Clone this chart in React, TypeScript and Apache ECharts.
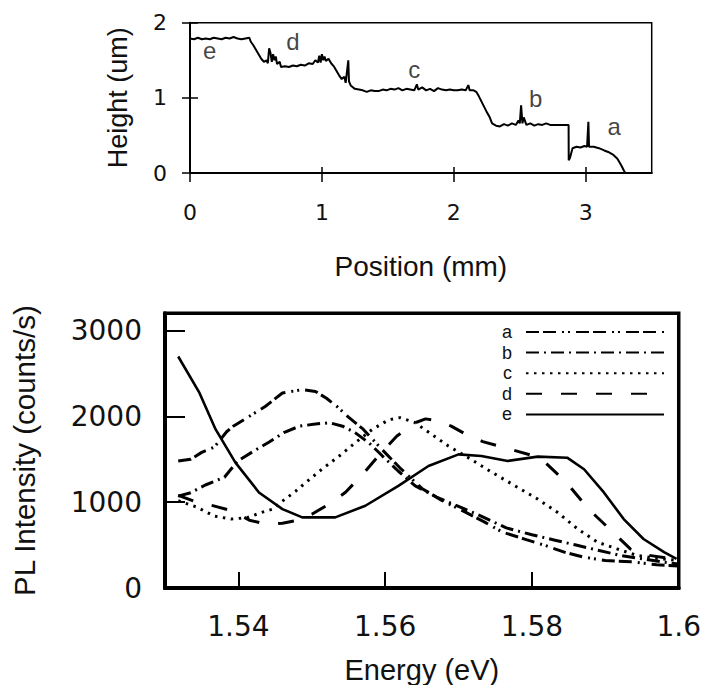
import React, { useEffect, useRef } from 'react';
import * as echarts from 'echarts';

// ---------- Top chart: height profile ----------
const profile: [number, number][] = [
  [0.0, 1.79], [0.03, 1.78], [0.06, 1.8], [0.09, 1.78], [0.12, 1.79], [0.15, 1.78], [0.18, 1.8],
  [0.21, 1.79], [0.24, 1.78], [0.27, 1.8], [0.3, 1.79], [0.33, 1.81], [0.36, 1.79], [0.39, 1.78],
  [0.42, 1.79], [0.45, 1.8], [0.46, 1.75], [0.48, 1.7], [0.5, 1.64], [0.52, 1.58], [0.54, 1.52],
  [0.56, 1.48], [0.58, 1.5], [0.59, 1.46], [0.6, 1.66], [0.61, 1.6], [0.62, 1.48], [0.63, 1.58],
  [0.64, 1.5], [0.65, 1.55], [0.66, 1.45], [0.68, 1.48], [0.69, 1.41], [0.72, 1.42], [0.75, 1.41],
  [0.78, 1.43], [0.81, 1.42], [0.84, 1.44], [0.87, 1.43], [0.9, 1.46], [0.93, 1.45], [0.95, 1.5],
  [0.97, 1.47], [0.98, 1.56], [0.99, 1.47], [1.0, 1.58], [1.01, 1.5], [1.02, 1.55], [1.03, 1.49],
  [1.05, 1.52], [1.07, 1.46], [1.09, 1.42], [1.11, 1.36], [1.13, 1.3], [1.15, 1.25], [1.17, 1.28],
  [1.18, 1.2], [1.2, 1.5], [1.205, 1.22], [1.22, 1.16], [1.25, 1.12], [1.28, 1.11], [1.31, 1.1],
  [1.34, 1.08], [1.37, 1.1], [1.4, 1.09], [1.43, 1.09], [1.46, 1.11], [1.49, 1.1], [1.52, 1.12],
  [1.55, 1.11], [1.58, 1.13], [1.61, 1.1], [1.64, 1.12], [1.67, 1.11], [1.7, 1.1], [1.72, 1.18],
  [1.73, 1.11], [1.76, 1.14], [1.79, 1.1], [1.82, 1.12], [1.85, 1.09], [1.88, 1.13], [1.91, 1.11],
  [1.94, 1.1], [1.97, 1.11], [2.0, 1.1], [2.03, 1.1], [2.06, 1.11], [2.09, 1.1], [2.11, 1.17],
  [2.12, 1.1], [2.15, 1.1], [2.17, 1.08], [2.19, 1.02], [2.21, 0.95], [2.23, 0.88], [2.25, 0.81],
  [2.27, 0.75], [2.29, 0.66], [2.32, 0.63], [2.35, 0.62], [2.38, 0.65], [2.41, 0.63], [2.44, 0.66],
  [2.47, 0.64], [2.49, 0.7], [2.5, 0.66], [2.51, 0.9], [2.52, 0.66], [2.53, 0.74], [2.55, 0.64],
  [2.58, 0.66], [2.61, 0.63], [2.64, 0.65], [2.67, 0.64], [2.7, 0.66], [2.73, 0.64], [2.76, 0.64],
  [2.8, 0.64], [2.84, 0.64], [2.87, 0.64], [2.871, 0.17], [2.88, 0.2], [2.9, 0.33], [2.93, 0.35],
  [2.96, 0.34], [2.99, 0.36], [3.01, 0.35], [3.02, 0.68], [3.025, 0.35], [3.06, 0.35], [3.1, 0.33],
  [3.14, 0.3], [3.17, 0.28], [3.21, 0.24], [3.24, 0.19], [3.27, 0.1], [3.29, 0.03], [3.3, 0.0],
];
const profileNotes: [number, number, string][] = [
  [0.15, 1.63, 'e'], [0.78, 1.75, 'd'], [1.7, 1.38, 'c'], [2.62, 0.99, 'b'], [3.215, 0.62, 'a'],
];
const posTicks = [0, 1, 2, 3];
const heightTicks = [0, 1, 2];

// ---------- Bottom chart: PL spectra ----------
const seriesNames = ['a', 'b', 'c', 'd', 'e'];
const specA: [number, number][] = [
  [1.5318, 1480], [1.5335, 1500], [1.535, 1580], [1.5367, 1640], [1.5384, 1820], [1.5393, 1885],
  [1.5415, 2000], [1.5437, 2117], [1.546, 2272], [1.5487, 2311], [1.5505, 2290], [1.552, 2210],
  [1.5535, 2110], [1.555, 1990], [1.557, 1850], [1.5595, 1620], [1.562, 1400], [1.565, 1160],
  [1.5675, 1030], [1.571, 880], [1.5735, 770], [1.576, 650], [1.579, 570], [1.582, 490],
  [1.5845, 415], [1.587, 360], [1.59, 320], [1.5935, 305], [1.597, 270], [1.6, 255],
];
const specB: [number, number][] = [
  [1.5318, 1070], [1.5335, 1110], [1.5355, 1200], [1.5381, 1290], [1.5399, 1480], [1.542, 1590],
  [1.5442, 1700], [1.5462, 1810], [1.5483, 1885], [1.5505, 1910], [1.5524, 1925], [1.5542, 1885],
  [1.5559, 1810], [1.5578, 1690], [1.5596, 1540], [1.5618, 1360], [1.5641, 1190], [1.567, 1060],
  [1.57, 950], [1.573, 840], [1.5765, 700], [1.58, 620], [1.583, 560], [1.586, 500], [1.589, 440],
  [1.592, 380], [1.595, 340], [1.598, 300], [1.6, 280],
];
const specC: [number, number][] = [
  [1.5318, 1016], [1.5343, 943], [1.5367, 838], [1.539, 803], [1.5412, 820], [1.5433, 884],
  [1.5447, 919], [1.546, 1012], [1.5478, 1128], [1.5492, 1230], [1.5514, 1385], [1.5537, 1535],
  [1.5559, 1690], [1.5582, 1845], [1.5605, 1960], [1.562, 1985], [1.564, 1930], [1.5665, 1780],
  [1.5686, 1655], [1.5709, 1540], [1.5746, 1345], [1.5777, 1190], [1.5808, 1035], [1.5835, 880],
  [1.5862, 690], [1.5889, 535], [1.5916, 455], [1.5943, 380], [1.597, 345], [1.6, 320],
];
const specD: [number, number][] = [
  [1.5318, 1080], [1.534, 1010], [1.5365, 960], [1.5391, 900], [1.5415, 790], [1.5437, 745],
  [1.546, 755], [1.5478, 785], [1.55, 860], [1.5525, 985], [1.5546, 1115], [1.557, 1330],
  [1.5591, 1540], [1.5616, 1770], [1.5641, 1925], [1.5655, 1970], [1.567, 1950], [1.569, 1885],
  [1.571, 1790], [1.5733, 1705], [1.5771, 1615], [1.58, 1545], [1.5819, 1455], [1.5847, 1230],
  [1.5877, 920], [1.5914, 620], [1.5934, 455], [1.596, 380], [1.6, 330],
];
const specE: [number, number][] = [
  [1.5318, 2697], [1.5347, 2272], [1.5369, 1847], [1.5396, 1461], [1.5428, 1113], [1.546, 919],
  [1.5487, 823], [1.5532, 823], [1.5573, 958], [1.5618, 1190], [1.5659, 1421], [1.57, 1557],
  [1.5731, 1537], [1.5767, 1480], [1.5808, 1530], [1.5848, 1518], [1.5871, 1383], [1.5898, 1113],
  [1.5925, 803], [1.5952, 571], [1.598, 417], [1.5997, 340],
];
const spectra = [specA, specB, specC, specD, specE];
const dashTypes: any[] = [[13, 4, 13, 6, 2, 4, 2, 6], [13, 5, 2, 5], [2.5, 5.5], [16, 19], 'solid'];
const energyTicks = [1.54, 1.56, 1.58, 1.6];
const intensityLabels = [0, 1000, 2000, 3000];
const intensityTicks = [1000, 2000, 3000];

const TICK_FONT = 'DejaVu Sans';
const NAME_FONT = 'Liberation Sans, Arial, sans-serif';
const INK = '#111';
const plain = (v: number) => String(v);

export default function App() {
  const ref = useRef<HTMLDivElement>(null);
  useEffect(() => {
    if (!ref.current) return;
    const chart = echarts.init(ref.current, undefined, { renderer: 'svg' });
    const g0 = { left: 190, top: 22.7, width: 461.7, height: 150.3 };
    const g1 = { left: 165, top: 313.3, width: 516.7, height: 276 };
    const option: any = {
      animation: false,
      backgroundColor: '#fff',
      grid: [
        { ...g0, show: true, borderColor: '#000', borderWidth: 1.5 },
        { ...g1, show: true, borderColor: '#000', borderWidth: 3.5 },
        { ...g0 },
      ],
      xAxis: [
        {
          gridIndex: 0, type: 'value', min: 0, max: 3.5,
          axisLine: { onZero: false, lineStyle: { color: '#000', width: 2 } },
          axisTick: { customValues: posTicks, length: 9, lineStyle: { color: '#000', width: 1.5 } },
          axisLabel: { customValues: posTicks, formatter: plain, margin: 28, fontSize: 22, fontFamily: TICK_FONT, color: INK },
          splitLine: { show: false },
          name: 'Position (mm)', nameLocation: 'middle', nameGap: 79,
          nameTextStyle: { fontSize: 28, fontFamily: NAME_FONT, color: INK },
        },
        {
          gridIndex: 1, type: 'value', min: 1.53, max: 1.6,
          axisLine: { onZero: false, lineStyle: { color: '#000', width: 4 } },
          axisTick: { customValues: energyTicks, inside: true, length: 16, lineStyle: { color: '#000', width: 2 } },
          axisLabel: { customValues: energyTicks, formatter: plain, margin: 24, fontSize: 28, fontFamily: TICK_FONT, color: INK },
          splitLine: { show: false },
          name: 'Energy (eV)', nameLocation: 'middle', nameGap: 67,
          nameTextStyle: { fontSize: 29, fontFamily: NAME_FONT, color: INK },
        },
        {
          gridIndex: 2, type: 'value', min: 0, max: 3.5,
          axisLine: { show: false },
          axisTick: { customValues: posTicks, inside: true, length: 6, lineStyle: { color: '#000', width: 1.5 } },
          axisLabel: { show: false },
          splitLine: { show: false },
        },
      ],
      yAxis: [
        {
          gridIndex: 0, type: 'value', min: 0, max: 2,
          axisLine: { onZero: false, lineStyle: { color: '#000', width: 2 } },
          axisTick: { customValues: heightTicks, length: 8, lineStyle: { color: '#000', width: 1.5 } },
          axisLabel: { customValues: heightTicks, formatter: plain, margin: 23, fontSize: 22, fontFamily: TICK_FONT, color: INK },
          splitLine: { show: false },
          name: 'Height (um)', nameLocation: 'middle', nameGap: 59,
          nameTextStyle: { fontSize: 27, fontFamily: NAME_FONT, color: INK },
        },
        {
          gridIndex: 1, type: 'value', min: 0, max: 3200,
          axisLine: { onZero: false, lineStyle: { color: '#000', width: 4 } },
          axisTick: { customValues: intensityTicks, inside: true, length: 20, lineStyle: { color: '#000', width: 2 } },
          axisLabel: { customValues: intensityLabels, formatter: plain, margin: 23, fontSize: 28, fontFamily: TICK_FONT, color: INK },
          splitLine: { show: false },
          name: 'PL Intensity (counts/s)', nameLocation: 'middle', nameGap: 126,
          nameTextStyle: { fontSize: 29.5, fontFamily: NAME_FONT, color: INK },
        },
        {
          gridIndex: 2, type: 'value', min: 0, max: 2,
          axisLine: { show: false },
          axisTick: { customValues: heightTicks, inside: true, length: 8, lineStyle: { color: '#000', width: 1.5 } },
          axisLabel: { show: false },
          splitLine: { show: false },
        },
      ],
      legend: {
        data: seriesNames,
        orient: 'vertical',
        right: 34,
        top: 317,
        align: 'right',
        itemWidth: 138,
        itemHeight: 20,
        itemGap: 0.6,
        selectedMode: false,
        itemStyle: { opacity: 0, color: 'transparent', borderWidth: 0 },
        textStyle: { fontSize: 18, fontFamily: NAME_FONT, color: INK, lineHeight: 20, padding: [0, 9, 0, 0] },
      },
      series: [
        {
          type: 'line', xAxisIndex: 0, yAxisIndex: 0, data: profile,
          symbol: 'none', lineStyle: { color: '#000', width: 2 }, silent: true,
        },
        {
          type: 'scatter', xAxisIndex: 0, yAxisIndex: 0, symbolSize: 0, silent: true,
          data: profileNotes.map((n) => ({ value: [n[0], n[1]], name: n[2] })),
          label: { show: true, position: 'inside', formatter: '{b}', fontSize: 24, fontFamily: NAME_FONT, color: INK },
        },
        ...spectra.map((d, i) => ({
          type: 'line', name: seriesNames[i], xAxisIndex: 1, yAxisIndex: 1, data: d,
          symbol: 'none', silent: true,
          lineStyle: { color: '#000', width: i === 4 ? 2.6 : 3, type: dashTypes[i] },
          itemStyle: { color: '#000' },
        })),
      ],
    };
    chart.setOption(option);
    return () => chart.dispose();
  }, []);
  return <div ref={ref} style={{ position: 'absolute', left: 0, top: 0, width: 704, height: 685 }} />;
}
